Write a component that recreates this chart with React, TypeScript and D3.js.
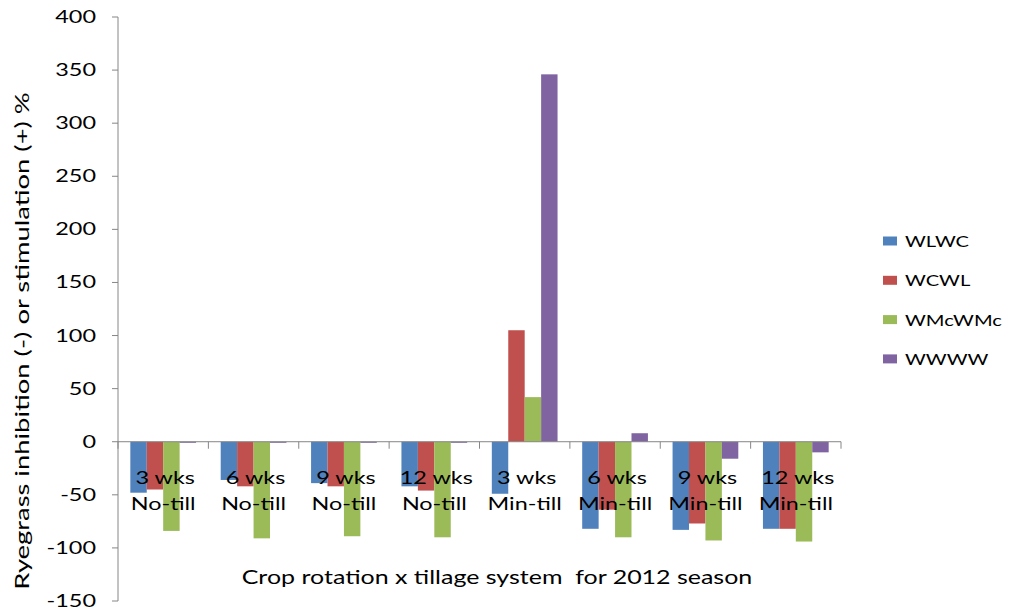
import React from "react";
import * as d3 from "d3";

// Category labels (two lines each)
const weeks = ["3 wks", "6 wks", "9 wks", "12 wks", "3 wks", "6 wks", "9 wks", "12 wks"];
const tillage = ["No-till", "No-till", "No-till", "No-till", "Min-till", "Min-till", "Min-till", "Min-till"];

// Series (percent inhibition / stimulation)
const seriesNames = ["WLWC", "WCWL", "WMcWMc", "WWWW"];
const WLWC = [-48, -36, -39, -42, -49, -82, -83, -82];
const WCWL = [-45, -42, -42, -46, 105, -64, -77, -82];
const WMcWMc = [-84, -91, -89, -90, 42, -90, -93, -94];
const WWWW = [-1, -1, -1, -1, 346, 8, -16, -10];
const seriesValues = [WLWC, WCWL, WMcWMc, WWWW];
const seriesColors = ["#4F81BD", "#C0504D", "#9BBB59", "#8064A2"];

const yTicks = [-150, -100, -50, 0, 50, 100, 150, 200, 250, 300, 350, 400];

const W = 1015;
const H = 613;
const FONT = "Lato, 'Open Sans', sans-serif";
const AXIS = "#868686";

function SText({ x, y, size, anchor = "start", rotate = 0, sx = 1.3, children }: any) {
  return (
    <text
      transform={`translate(${x},${y}) rotate(${rotate}) scale(${sx},1)`}
      fontSize={size}
      fontFamily={FONT}
      textAnchor={anchor}
      fill="#000"
      style={{ whiteSpace: "pre" }}
    >
      {children}
    </text>
  );
}

export default function App() {
  const left = 118;
  const right = 841;
  const top = 17;
  const bottom = 601;

  const y = d3.scaleLinear().domain([-150, 400]).range([bottom, top]);
  const x0 = d3
    .scaleBand<number>()
    .domain(d3.range(weeks.length))
    .range([left, right])
    .padding(0);
  const bw = x0.bandwidth();
  const barW = bw / 5.5; // 150% gap between clusters
  const x1 = d3
    .scaleBand<number>()
    .domain(d3.range(seriesNames.length))
    .range([0.75 * barW, bw - 0.75 * barW])
    .padding(0);
  const y0 = y(0);

  const boundaries = d3.range(weeks.length + 1).map((i) =>
    i < weeks.length ? (x0(i) as number) : right
  );

  return (
    <svg
      width={W}
      height={H}
      style={{ position: "absolute", left: 0, top: 0, background: "#fff" }}
    >
      <rect x={0} y={0} width={W} height={H} fill="#fff" />

      {/* bars */}
      {seriesValues.map((vals, s) =>
        vals.map((v, i) => {
          const bx = (x0(i) as number) + (x1(s) as number);
          const yy = y(v);
          return (
            <rect
              key={`${s}-${i}`}
              x={bx}
              y={Math.min(yy, y0)}
              width={x1.bandwidth()}
              height={Math.abs(yy - y0)}
              fill={seriesColors[s]}
            />
          );
        })
      )}

      {/* y axis */}
      <line x1={left} x2={left} y1={top} y2={bottom} stroke={AXIS} strokeWidth={1} />
      {yTicks.map((t) => (
        <g key={t}>
          <line x1={left - 6} x2={left} y1={y(t)} y2={y(t)} stroke={AXIS} />
          <SText x={96} y={y(t) + 6} size={16.5} sx={1.42} anchor="end">
            {t}
          </SText>
        </g>
      ))}

      {/* x axis along zero */}
      <line x1={left} x2={right} y1={y0} y2={y0} stroke={AXIS} />
      {boundaries.map((bx, i) => (
        <line key={i} x1={bx} x2={bx} y1={y0} y2={y0 + 7} stroke={AXIS} />
      ))}

      {/* category labels */}
      {weeks.map((w, i) => {
        const cx = (x0(i) as number) + bw / 2;
        return (
          <g key={i}>
            <SText x={cx + 2} y={484} size={18} anchor="middle">
              {w}
            </SText>
            <SText x={cx} y={510} size={18} anchor="middle">
              {tillage[i]}
            </SText>
          </g>
        );
      })}

      {/* axis titles */}
      <SText x={497} y={584} size={18.5} sx={1.35} anchor="middle">
        {"Crop rotation x tillage system  for 2012 season"}
      </SText>
      <SText x={29} y={341} size={18.5} sx={1.48} anchor="middle" rotate={-90}>
        Ryegrass inhibition (-) or stimulation (+) %
      </SText>

      {/* legend */}
      {seriesNames.map((n, s) => {
        const cy = 241 + s * 39.3;
        return (
          <g key={n}>
            <rect x={883} y={cy - 4.5} width={14} height={9} fill={seriesColors[s]} />
            <SText x={905} y={cy + 6} size={15.5}>
              {n}
            </SText>
          </g>
        );
      })}
    </svg>
  );
}
